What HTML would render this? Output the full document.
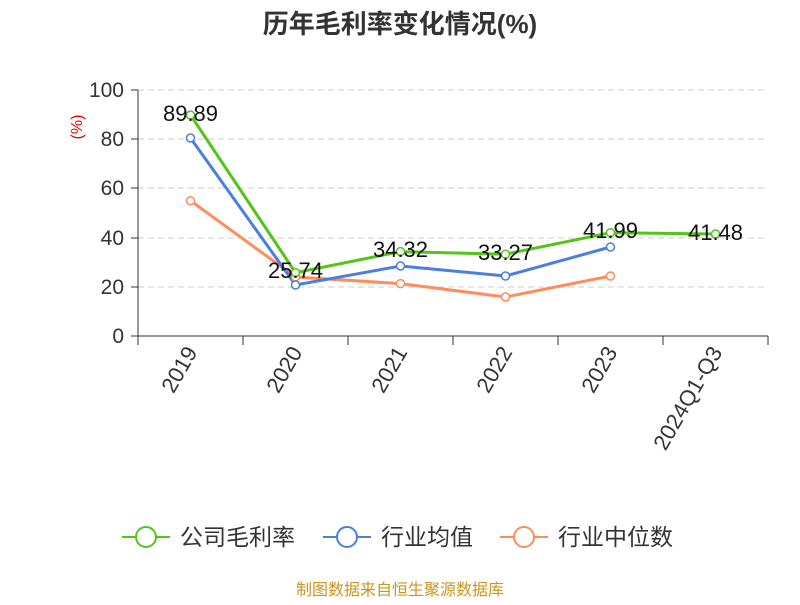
<!DOCTYPE html>
<html><head><meta charset="utf-8"><style>body{margin:0;background:#fff}</style></head><body>
<svg width="800" height="600" xmlns="http://www.w3.org/2000/svg" font-family="Liberation Sans, Noto Sans CJK SC, sans-serif">
<text x="400" y="33" text-anchor="middle" font-size="26" font-weight="bold" fill="#333">历年毛利率变化情况(%)</text>
<g stroke="#ccc" stroke-dasharray="6,4" stroke-width="1">
<line x1="138" y1="90" x2="768" y2="90"/><line x1="138" y1="139" x2="768" y2="139"/><line x1="138" y1="188" x2="768" y2="188"/><line x1="138" y1="238" x2="768" y2="238"/><line x1="138" y1="287" x2="768" y2="287"/>
</g>
<g stroke="#333" stroke-width="1">
<line x1="138" y1="90" x2="138" y2="336"/><line x1="138" y1="336" x2="768" y2="336"/>
<line x1="131" y1="90" x2="138" y2="90"/><line x1="131" y1="139" x2="138" y2="139"/><line x1="131" y1="188" x2="138" y2="188"/><line x1="131" y1="238" x2="138" y2="238"/><line x1="131" y1="287" x2="138" y2="287"/><line x1="131" y1="336" x2="138" y2="336"/>
<line x1="138" y1="336" x2="138" y2="345"/><line x1="243" y1="336" x2="243" y2="345"/><line x1="348" y1="336" x2="348" y2="345"/><line x1="453" y1="336" x2="453" y2="345"/><line x1="558" y1="336" x2="558" y2="345"/><line x1="663" y1="336" x2="663" y2="345"/><line x1="768" y1="336" x2="768" y2="345"/>
</g>
<g font-size="21" fill="#333" text-anchor="end">
<text x="124" y="97">100</text><text x="124" y="146">80</text><text x="124" y="195">60</text><text x="124" y="245">40</text><text x="124" y="294">20</text><text x="124" y="343">0</text>
</g>
<text x="82" y="127" font-size="16" fill="#e00" transform="rotate(-90 82 127)" text-anchor="middle">(%)</text>
<g font-size="22" fill="#333" text-anchor="end">
<text transform="translate(198,352) rotate(-60)">2019</text>
<text transform="translate(303,352) rotate(-60)">2020</text>
<text transform="translate(408,352) rotate(-60)">2021</text>
<text transform="translate(513,352) rotate(-60)">2022</text>
<text transform="translate(618,352) rotate(-60)">2023</text>
<text transform="translate(723,352) rotate(-60)">2024Q1-Q3</text>
</g>
<g fill="none" stroke-width="3">
<polyline stroke="#ff8c5a" points="190.5,200.7 295.5,277 400.5,283.6 505.5,297 610.5,276"/>
<polyline stroke="#4a7ee0" points="190.5,138 295.5,285 400.5,266 505.5,276 610.5,247"/>
<polyline stroke="#52c41a" points="190.5,115 295.5,272.7 400.5,251.6 505.5,254.2 610.5,232.7 715.5,234"/>
</g>
<g fill="#fff" stroke-width="1.5">
<g stroke="#ff8c5a"><circle cx="190.5" cy="200.7" r="4"/><circle cx="295.5" cy="277" r="4"/><circle cx="400.5" cy="283.6" r="4"/><circle cx="505.5" cy="297" r="4"/><circle cx="610.5" cy="276" r="4"/></g>
<g stroke="#4a7ee0"><circle cx="190.5" cy="138" r="4"/><circle cx="295.5" cy="285" r="4"/><circle cx="400.5" cy="266" r="4"/><circle cx="505.5" cy="276" r="4"/><circle cx="610.5" cy="247" r="4"/></g>
<g stroke="#52c41a"><circle cx="190.5" cy="115" r="4"/><circle cx="295.5" cy="272.7" r="4"/><circle cx="400.5" cy="251.6" r="4"/><circle cx="505.5" cy="254.2" r="4"/><circle cx="610.5" cy="232.7" r="4"/><circle cx="715.5" cy="234" r="4"/></g>
</g>
<g font-size="22" fill="#111" text-anchor="middle">
<text x="190.5" y="121">89.89</text><text x="295.5" y="278">25.74</text><text x="400.5" y="257">34.32</text><text x="505.5" y="260">33.27</text><text x="610.5" y="238">41.99</text><text x="715.5" y="240">41.48</text>
</g>
<g stroke-width="2" fill="#fff">
<line x1="122" y1="537" x2="170" y2="537" stroke="#52c41a"/><circle cx="146" cy="537" r="10" stroke="#52c41a"/>
<line x1="323" y1="537" x2="371" y2="537" stroke="#4a7ee0"/><circle cx="347" cy="537" r="10" stroke="#4a7ee0"/>
<line x1="500" y1="537" x2="548" y2="537" stroke="#ff8c5a"/><circle cx="524" cy="537" r="10" stroke="#ff8c5a"/>
</g>
<g font-size="23" fill="#333">
<text x="180" y="545">公司毛利率</text><text x="381" y="545">行业均值</text><text x="558" y="545">行业中位数</text>
</g>
<text x="400" y="595" text-anchor="middle" font-size="16" fill="#c8961e">制图数据来自恒生聚源数据库</text>
</svg>
</body></html>
